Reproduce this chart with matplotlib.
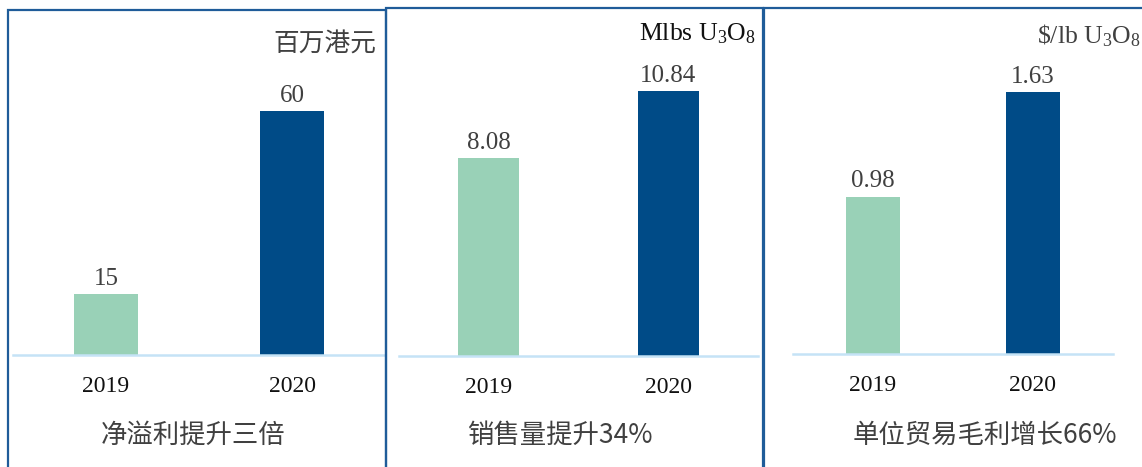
import matplotlib
matplotlib.use("Agg")
import matplotlib.pyplot as plt
from matplotlib.patches import Rectangle

plt.rcParams['mathtext.fontset'] = 'custom'
plt.rcParams['mathtext.rm'] = 'Liberation Serif'
plt.rcParams['mathtext.it'] = 'Liberation Serif'

# ---- data ----
years = ['2019', '2020']
profit = [15, 60]            # 百万港元
sales = [8.08, 10.84]        # Mlbs U3O8
margin = [0.98, 1.63]        # $/lb U3O8
value_labels = [['15', '60'], ['8.08', '10.84'], ['0.98', '1.63']]
units = ['百万港元', r'Mlbs U$_3$O$_8$', r'\$/lb U$_3$O$_8$']
subtitles = ['净溢利提升三倍', '销售量提升34%', '单位贸易毛利增长66%']

W, H = 1142, 467
GREEN = '#99d1b7'
BLUE = '#004b87'
FRAME = '#1f5c99'
BASE = '#c5e3f6'
GREY = '#404040'
CJK = ['Noto Sans CJK SC', 'DejaVu Sans']
SERIF = 'Liberation Serif'

fig = plt.figure(figsize=(W / 100, H / 100), dpi=100)
fig.patch.set_facecolor('white')


def px_axes(l, r, t, b):
    return fig.add_axes([l / W, 1 - b / H, (r - l) / W, (b - t) / H])


# panel frames (left, right, top) in pixels
frames = [(8, 386, 10), (386, 763, 8), (764, 1148, 8)]
for l, r, t in frames:
    fig.patches.append(Rectangle((l / W, -0.05), (r - l) / W, 1.05 - t / H,
                                 transform=fig.transFigure, fill=False,
                                 edgecolor=FRAME, linewidth=1.6, zorder=5))

# axes boxes: left, right, top, baseline; ylim top
boxes = [(13, 385, 10, 355, 84.8), (399, 758, 8, 356, 14.23), (793, 1113, 8, 354, 2.153)]
series = [profit, sales, margin]
sub_x = [193, 560, 985]
unit_pos = [(376, 45), (756, 34), (1141, 36)]
unit_col = [GREY, '#111111', GREY]

for i, (l, r, t, b, ytop) in enumerate(boxes):
    ax = px_axes(l, r, t, b)
    vals = series[i]
    ax.bar([0, 1], vals, width=0.34, color=[GREEN, BLUE])
    ax.set_xlim(-0.5, 1.5)
    ax.set_ylim(0, ytop)
    ax.patch.set_alpha(0)
    for s in ['top', 'left', 'right']:
        ax.spines[s].set_visible(False)
    ax.spines['bottom'].set_color(BASE)
    ax.spines['bottom'].set_linewidth(1.8)
    ax.set_yticks([])
    ax.set_xticks([0, 1])
    ax.set_xticklabels(years, fontfamily=SERIF, fontsize=17, color='#111111')
    ax.tick_params(axis='x', length=0, pad=15)
    for x, v, lab in zip([0, 1], vals, value_labels[i]):
        ax.annotate(lab, (x, v), xytext=(0, 3), textcoords='offset points',
                    ha='center', va='bottom', fontfamily=SERIF, fontsize=18, color=GREY)
    ux, uy = unit_pos[i]
    if i == 0:
        fig.text(ux / W, 1 - uy / H, units[i], ha='right', va='center',
                 family=CJK, fontsize=18.5, color=GREY)
    else:
        fig.text(ux / W, 1 - uy / H, units[i], ha='right', va='center',
                 fontfamily=SERIF, fontsize=18.5, color=unit_col[i])
    fig.text(sub_x[i] / W, 1 - 435 / H, subtitles[i], ha='center', va='center',
             family=CJK, fontsize=19, color=GREY)

fig.savefig('out.png', dpi=100)
